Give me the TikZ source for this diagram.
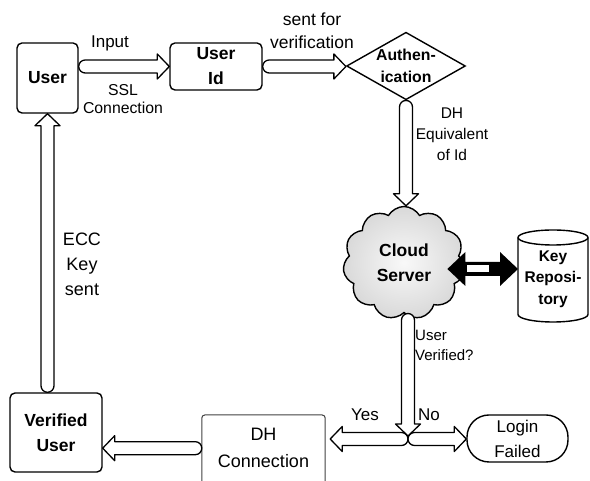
\documentclass[tikz,border=0pt]{standalone}
\usepackage{fontspec}
\setmainfont{Liberation Sans}
\usetikzlibrary{calc,shapes.geometric,shapes.symbols}
\tikzset{
  box/.style={draw, line width=1.4pt, rounded corners=5pt, align=center, inner sep=0pt,
    font=\bfseries\fontsize{17.5}{25}\selectfont},
  lbl/.style={align=center, inner sep=0pt},
  harrow/.style={draw, fill=white, line width=1.3pt, line join=round},
}
\newcommand\fatarrow[3][]{%
  \draw[harrow,#1] let \p1=(#2), \p2=(#3),
     \n1={atan2(\y2-\y1,\x2-\x1)}, \n2={veclen(\x2-\x1,\y2-\y1)} in
    [shift={(\x1,\y1)}, rotate=\n1]
    (6.5,6.5) -- (\n2-12,6.5) -- (\n2-12,12.5) -- (\n2,0) -- (\n2-12,-12.5) -- (\n2-12,-6.5)
    -- (6.5,-6.5) arc[start angle=-90,end angle=-270,radius=6.5] -- cycle;}
\begin{document}
\begin{tikzpicture}[x=1pt,y=1pt]
\useasboundingbox (0,0) rectangle (590,481);
% nodes
\node[box, minimum width=61, minimum height=70] (user) at (47.5,403) {User};
\node[box, minimum width=92, minimum height=47] (userid) at (216,414.5) {User\\Id};
\node[diamond, draw, line width=1.4pt, aspect=1.76, inner sep=0pt, minimum width=118, minimum height=67,
  align=center, font=\bfseries\fontsize{15.8}{22}\selectfont] (auth) at (406,415) {Authen-\\ication};
\node[cloud, cloud puffs=11, cloud puff arc=120, cloud ignores aspect, draw, line width=1.4pt,
  inner color=gray!5, outer color=gray!30, minimum width=122, minimum height=113, inner sep=0pt,
  align=center, font=\bfseries\fontsize{17.5}{25}\selectfont] (cloud) at (404,218) {Cloud\\Server};
\coordinate (key) at (553,205);
\coordinate (kw) at (518,205);
\draw[line width=1.4pt, fill=white] ($(key)+(-35,38.5)$) -- ($(key)+(-35,-38.5)$)
  arc[start angle=180,end angle=360,x radius=35,y radius=7.5]
  -- ($(key)+(35,38.5)$)
  arc[start angle=0,end angle=180,x radius=35,y radius=7.5] -- cycle;
\draw[line width=1.4pt] ($(key)+(-35,38.5)$) arc[start angle=180,end angle=360,x radius=35,y radius=7.5];
\node[minimum width=70, minimum height=92, inner sep=0pt, align=center,
  font=\bfseries\fontsize{15.5}{21.5}\selectfont] (keytext) at ($(key)+(0,-3)$) {Key\\Reposi-\\tory};
\node[draw, line width=1.4pt, rounded corners=22pt, minimum width=101, minimum height=47, inner sep=0pt,
  align=center, font=\fontsize{17}{25}\selectfont] (login) at (517.5,42.5) {Login\\Failed};
\node[minimum width=123, minimum height=66, inner sep=0pt, anchor=north, align=center,
  font=\fontsize{18}{27}\selectfont] (dh) at (263.5,66) {DH\\Connection};
\draw[line width=1pt, draw=black!75, rounded corners=3pt] (dh.south west) -- (dh.north west)
  -- (dh.north east) -- (dh.south east);
\node[box, minimum width=92, minimum height=79] (vu) at (56,48.5) {Verified\\User};
\coordinate (j) at (408,42);
% arrows
\fatarrow{user.east |- userid.west}{userid.west}
\fatarrow{userid.east}{auth.west |- userid.east}
\fatarrow{auth.south}{auth.south |- cloud.north}
\fatarrow{j}{$(dh.east |- j)+(5,0)$}
\fatarrow{j}{login.west |- j}
\fatarrow{j |- cloud.south}{$(j)+(0,3)$}
\fatarrow{dh.west}{vu.east |- dh.west}
\fatarrow{user.south |- vu.north}{user.south}
% double black arrow
\coordinate (L) at ($(cloud.east)+(-17,-6)$);
\coordinate (R) at (kw |- L);
\fill[black] (L) -- ($(L)+(18,17)$) -- ($(L)+(18,7)$) -- ($(R)+(-18,7)$) -- ($(R)+(-18,17)$) -- (R)
  -- ($(R)+(-18,-17)$) -- ($(R)+(-18,-7)$) -- ($(L)+(18,-7)$) -- ($(L)+(18,-17)$) -- cycle;
\fill[white] ($(L)+(20,-3.5)$) rectangle ($(L)+(42,3.5)$);
% labels
\node[lbl, font=\fontsize{17}{22}\selectfont] (tinput) at (110,438) {Input};
\node[lbl, font=\fontsize{15.8}{18}\selectfont] (tssl) at (123,382) {SSL\\Connection};
\node[lbl, font=\fontsize{17.5}{23}\selectfont] (tsent) at (312,450) {sent for\\verification};
\node[lbl, font=\fontsize{15.5}{21}\selectfont] (tdh) at (452,347) {DH\\Equivalent\\of Id};
\node[lbl, font=\fontsize{18}{25}\selectfont] (tecc) at (82,217) {ECC\\Key\\sent};
\node[lbl, align=left, anchor=west, font=\fontsize{15}{20}\selectfont] (tuv) at (415,136) {User\\Verified?};
\node[lbl, font=\fontsize{17}{22}\selectfont] (tyes) at (365,66) {Yes};
\node[lbl, font=\fontsize{17}{22}\selectfont] (tno) at (429,66) {No};
\end{tikzpicture}
\end{document}
